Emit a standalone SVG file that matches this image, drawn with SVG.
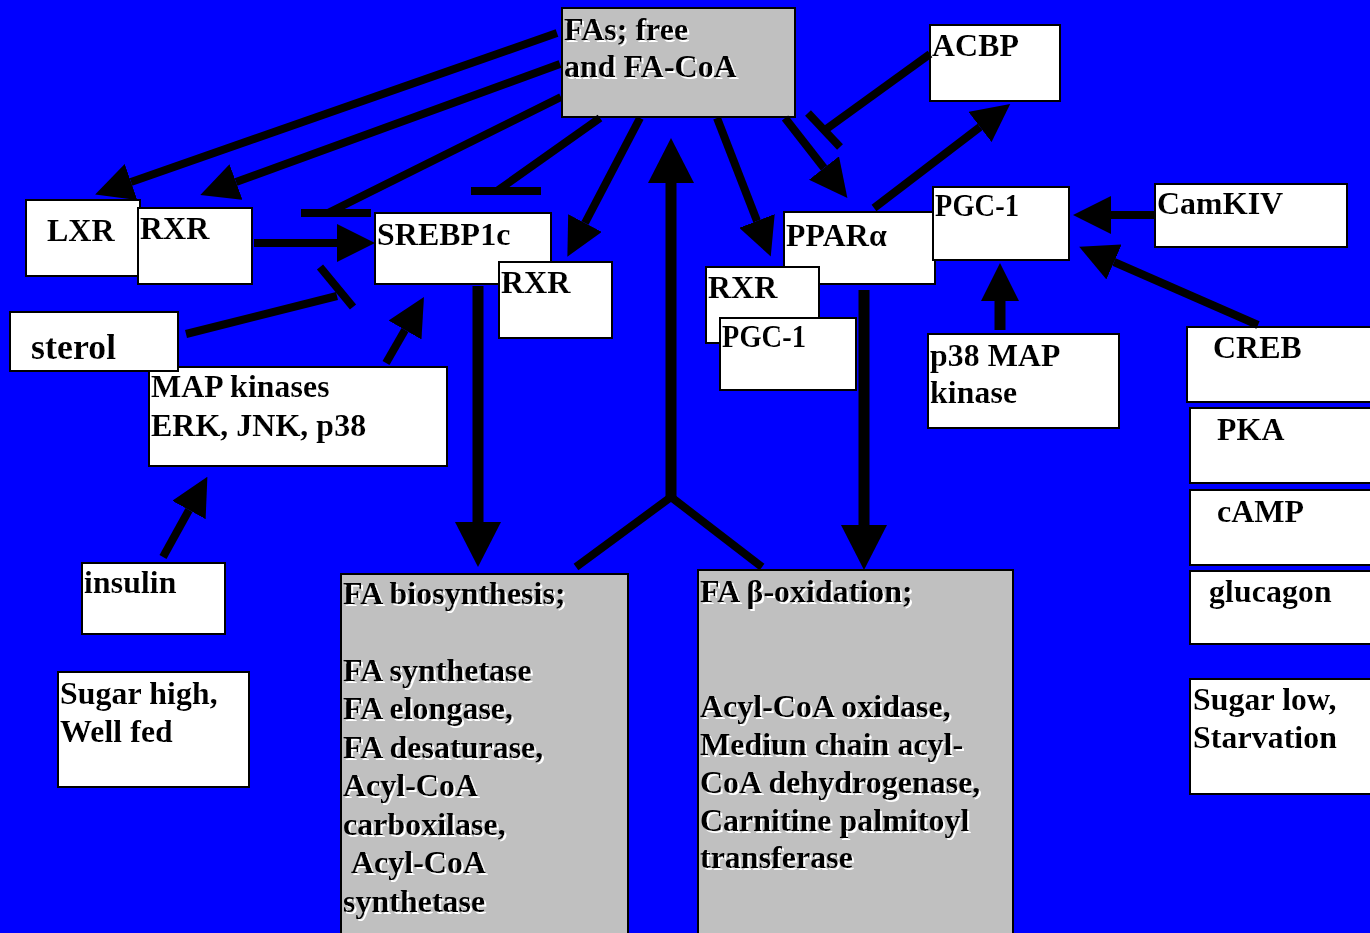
<svg xmlns="http://www.w3.org/2000/svg" width="1370" height="933" viewBox="0 0 1370 933">
<style>
.bx{fill:#fff;stroke:#000;stroke-width:2}
.gb{fill:#c0c0c0;stroke:#000;stroke-width:2}
.t{font-family:"Liberation Serif","Times New Roman",serif;font-weight:bold;font-size:32px;fill:#000;filter:url(#sh)}
.c{stroke:#000;stroke-width:8;fill:none}
.v{stroke:#000;stroke-width:11;fill:none}
.a{marker-end:url(#ah)}
.ab{marker-end:url(#ahb)}
</style>
<defs>
<filter id="sh" x="-5%" y="-10%" width="115%" height="130%">
<feOffset in="SourceAlpha" dx="2" dy="2" result="o"/>
<feFlood flood-color="#ffffff"/>
<feComposite in2="o" operator="in" result="s"/>
<feMerge><feMergeNode in="s"/><feMergeNode in="SourceGraphic"/></feMerge>
</filter>
<marker id="ah" markerUnits="userSpaceOnUse" markerWidth="38" markerHeight="38" viewBox="0 0 38 38" refX="0" refY="19" orient="auto"><path d="M0,0 L38,19 L0,38 z" fill="#000"/></marker>
<marker id="ahb" markerUnits="userSpaceOnUse" markerWidth="45" markerHeight="46" viewBox="0 0 45 46" refX="0" refY="23" orient="auto"><path d="M0,0 L45,23 L0,46 z" fill="#000"/></marker>
</defs>
<rect x="0" y="0" width="1370" height="933" fill="#0000ff"/>

<g id="n-fas"><rect class="gb" x="562" y="8" width="233" height="109"/><text class="t" x="564" y="40">FAs; free</text><text class="t" x="564" y="77">and FA-CoA</text></g>
<g id="n-acbp"><rect class="bx" x="930" y="25" width="130" height="76"/><text class="t" x="932" y="56">ACBP</text></g>
<g id="n-lxr"><rect class="bx" x="26" y="200" width="114" height="76"/><text class="t" x="47" y="241">LXR</text></g>
<g id="n-rxr1"><rect class="bx" x="138" y="208" width="114" height="76"/><text class="t" x="140" y="239">RXR</text></g>
<g id="n-srebp"><rect class="bx" x="375" y="213" width="176" height="71"/><text class="t" x="377" y="245">SREBP1c</text></g>
<g id="n-rxr2"><rect class="bx" x="499" y="262" width="113" height="76"/><text class="t" x="501" y="293">RXR</text></g>
<g id="n-map"><rect class="bx" x="149" y="367" width="298" height="99"/><text class="t" x="151" y="397">MAP kinases</text><text class="t" x="151" y="436">ERK, JNK, p38</text></g>
<g id="n-sterol"><rect class="bx" x="10" y="312" width="168" height="59"/><text class="t" x="31" y="359" style="font-size:36px">sterol</text></g>
<g id="n-insulin"><rect class="bx" x="82" y="563" width="143" height="71"/><text class="t" x="84" y="593">insulin</text></g>
<g id="n-sugarhigh"><rect class="bx" x="58" y="672" width="191" height="115"/><text class="t" x="60" y="704">Sugar high,</text><text class="t" x="60" y="742">Well fed</text></g>
<g id="n-biosyn"><rect class="gb" x="341" y="574" width="287" height="370"/>
<text class="t" x="343" y="604">FA biosynthesis;</text>
<text class="t" x="343" y="681">FA synthetase</text>
<text class="t" x="343" y="719">FA elongase,</text>
<text class="t" x="343" y="758">FA desaturase,</text>
<text class="t" x="343" y="796">Acyl-CoA</text>
<text class="t" x="343" y="835">carboxilase,</text>
<text class="t" x="351" y="873">Acyl-CoA</text>
<text class="t" x="343" y="912">synthetase</text></g>
<g id="n-betaox"><rect class="gb" x="698" y="570" width="315" height="374"/>
<text class="t" x="700" y="602">FA β-oxidation;</text>
<text class="t" x="700" y="717">Acyl-CoA oxidase,</text>
<text class="t" x="700" y="755">Mediun chain acyl-</text>
<text class="t" x="700" y="793">CoA dehydrogenase,</text>
<text class="t" x="700" y="831">Carnitine palmitoyl</text>
<text class="t" x="700" y="868">transferase</text></g>
<g id="n-ppar"><rect class="bx" x="784" y="212" width="151" height="72"/><text class="t" x="786" y="246">PPARα</text></g>
<g id="n-rxr3"><rect class="bx" x="706" y="267" width="113" height="76"/><text class="t" x="708" y="298">RXR</text></g>
<g id="n-pgc1b"><rect class="bx" x="720" y="318" width="136" height="72"/><text class="t" x="722" y="347" textLength="84" lengthAdjust="spacingAndGlyphs">PGC-1</text></g>
<g id="n-pgc1a"><rect class="bx" x="933" y="187" width="136" height="73"/><text class="t" x="935" y="216" textLength="84" lengthAdjust="spacingAndGlyphs">PGC-1</text></g>
<g id="n-camkiv"><rect class="bx" x="1155" y="184" width="192" height="63"/><text class="t" x="1157" y="214">CamKIV</text></g>
<g id="n-p38"><rect class="bx" x="928" y="334" width="191" height="94"/><text class="t" x="930" y="366">p38 MAP</text><text class="t" x="930" y="403">kinase</text></g>
<g id="n-creb"><rect class="bx" x="1187" y="327" width="190" height="75"/><text class="t" x="1213" y="358">CREB</text></g>
<g id="n-pka"><rect class="bx" x="1190" y="408" width="190" height="75"/><text class="t" x="1217" y="440">PKA</text></g>
<g id="n-camp"><rect class="bx" x="1190" y="490" width="190" height="75"/><text class="t" x="1217" y="522">cAMP</text></g>
<g id="n-glucagon"><rect class="bx" x="1190" y="571" width="190" height="73"/><text class="t" x="1209" y="602">glucagon</text></g>
<g id="n-sugarlow"><rect class="bx" x="1190" y="679" width="190" height="115"/><text class="t" x="1193" y="710">Sugar low,</text><text class="t" x="1193" y="748">Starvation</text></g>

<g id="connectors">
<line class="c a" x1="557" y1="33" x2="131" y2="182"/>
<line class="c a" x1="560" y1="64" x2="236" y2="182"/>
<line class="c a" x1="640" y1="118" x2="585" y2="223"/>
<line class="v ab" x1="671" y1="497" x2="671" y2="183"/>
<line class="c" x1="576" y1="567" x2="671" y2="497"/>
<line class="c" x1="671" y1="497" x2="762" y2="567"/>
<line class="c a" x1="717" y1="118" x2="757" y2="221"/>
<line class="c a" x1="785" y1="118" x2="824" y2="168"/>
<line class="c a" x1="874" y1="208" x2="980" y2="127"/>
<line class="c a" x1="1155" y1="215" x2="1111" y2="215"/>
<line class="c a" x1="1258" y1="325" x2="1114" y2="262"/>
<line class="v a" x1="1000" y1="330" x2="1000" y2="301"/>
<line class="v ab" x1="864" y1="290" x2="864" y2="525"/>
<line class="v ab" x1="478" y1="286" x2="478" y2="522"/>
<line class="c a" x1="254" y1="243" x2="337" y2="243"/>
<line class="c a" x1="386" y1="363" x2="405" y2="330"/>
<line class="c a" x1="163" y1="557" x2="189" y2="510"/>
<line class="c" x1="561" y1="97" x2="328" y2="213"/>
<line class="c" x1="301" y1="213" x2="371" y2="213"/>
<line class="c" x1="600" y1="118" x2="497" y2="191"/>
<line class="c" x1="471" y1="191" x2="541" y2="191"/>
<line class="c" x1="186" y1="334" x2="337" y2="296"/>
<line class="c" x1="320" y1="267" x2="353" y2="307"/>
<line class="c" x1="930" y1="54" x2="825" y2="130"/>
<line class="c" x1="808" y1="113" x2="840" y2="147"/>
</g>
</svg>
